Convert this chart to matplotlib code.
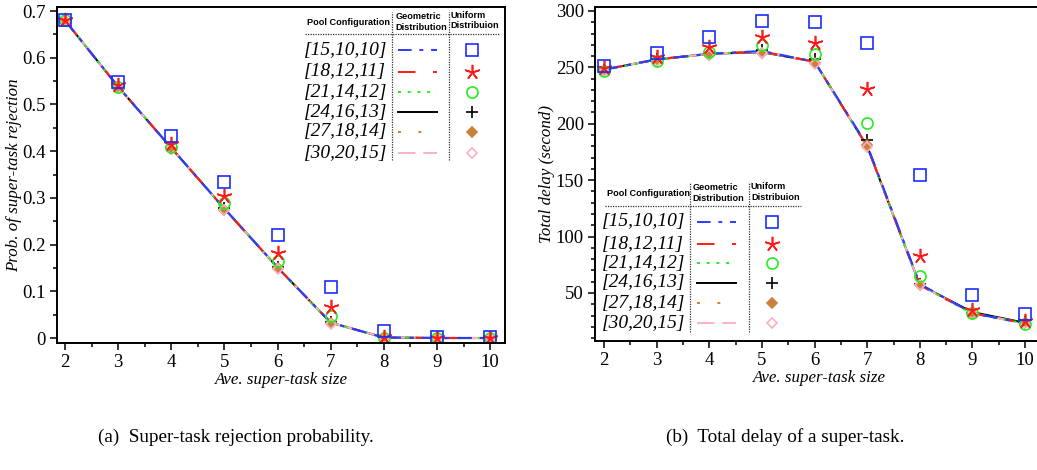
"""Two-panel comparison: super-task rejection probability and total delay."""

import matplotlib.pyplot as plt
from matplotlib.ticker import MultipleLocator

plt.rcParams["font.family"] = ["Liberation Serif", "DejaVu Serif"]
plt.rcParams["axes.linewidth"] = 1.4

# ---- data -----------------------------------------------------------------
task_size = [2, 3, 4, 5, 6, 7, 8, 9, 10]
pool_configs = ["[15,10,10]", "[18,12,11]", "[21,14,12]",
                "[24,16,13]", "[27,18,14]", "[30,20,15]"]

# rejection probability, geometric distribution (lines)
rej_geo = [
    [0.680, 0.538, 0.407, 0.277, 0.151, 0.033, 0.001, 0.000, 0.000],
    [0.680, 0.538, 0.407, 0.277, 0.151, 0.033, 0.001, 0.000, 0.000],
    [0.680, 0.538, 0.407, 0.277, 0.151, 0.033, 0.001, 0.000, 0.000],
    [0.680, 0.538, 0.407, 0.277, 0.151, 0.033, 0.001, 0.000, 0.000],
    [0.680, 0.538, 0.407, 0.277, 0.151, 0.033, 0.001, 0.000, 0.000],
    [0.680, 0.538, 0.407, 0.277, 0.151, 0.033, 0.001, 0.000, 0.000],
]
# rejection probability, uniform distribution (markers)
rej_uni = [
    [0.680, 0.548, 0.433, 0.334, 0.221, 0.110, 0.016, 0.002, 0.002],
    [0.680, 0.542, 0.415, 0.304, 0.183, 0.066, 0.003, 0.001, 0.001],
    [0.680, 0.538, 0.408, 0.288, 0.165, 0.047, 0.001, 0.000, 0.000],
    [0.680, 0.537, 0.406, 0.278, 0.153, 0.035, 0.000, 0.000, 0.000],
    [0.679, 0.535, 0.405, 0.275, 0.149, 0.032, 0.000, 0.000, 0.000],
    [0.679, 0.535, 0.405, 0.274, 0.148, 0.031, 0.000, 0.000, 0.000],
]

# total delay (s), geometric distribution (lines)
delay_geo = [
    [248, 257, 262, 264.5, 255, 181, 58, 32, 23],
    [248, 257, 262, 264, 255, 180, 57, 32, 23],
    [247.5, 256.5, 262, 264, 255, 180, 57, 31.5, 23],
    [248, 257, 262, 263.5, 255, 180, 57, 33, 23.5],
    [248, 257, 262, 264, 255, 180, 57, 32, 23],
    [248, 257, 262, 264, 255, 180, 57, 32, 23],
]
# total delay (s), uniform distribution (markers)
delay_uni = [
    [251, 263, 277, 291, 290, 272, 155, 48, 31],
    [249, 259, 268, 277, 272, 231, 83, 35, 25],
    [247, 256, 264, 270, 262, 201, 65, 32, 22.5],
    [248, 257, 263, 265, 257, 186, 58, 32, 24],
    [247, 256, 261, 263, 254, 181, 57, 31, 23],
    [247, 256, 261, 263, 253, 179, 57, 31, 23],
]

# ---- styles ---------------------------------------------------------------
line_colors = ["#2a3cff", "#ff1a1a", "#22ee22", "black", "#e07a20", "#ffb0c0"]
line_styles = [(0, (7, 4, 2, 4)), (0, (9, 9, 4, 9)), (0, (1.5, 3.5)),
               "-", (0, (1.5, 9)), (0, (9, 4))]
markers = ["s", (5, 2, 0), "o", "+", "D", "D"]
marker_face = ["none", "none", "none", "black", "#c8803a", "none"]
marker_edge = ["#1a2cff", "#ff1a1a", "#22ee22", "black", "#c8803a", "#ffb0c0"]
marker_size = [8, 11, 8, 9, 5.5, 5.5]
draw_order = [3, 4, 5, 2, 1, 0]


def draw_table(ax, x_text, x_line0, x_line1, x_mark, x_sep1, x_sep2,
               x_hdr2, x_hdr3, x_left, x_right, y_hdr, y_div, y_top, y_bot, rows_y):
    tr = ax.transAxes
    hdr = dict(family=["Liberation Sans", "DejaVu Sans"], fontweight="bold",
               fontsize=6.6, transform=tr)
    ax.text(x_left + 0.004, y_hdr, "Pool Configuration", va="center", **hdr)
    ax.text(x_hdr2, y_hdr, "Geometric\nDistribution", va="center",
            ha="left", linespacing=1.25, **hdr)
    ax.text(x_hdr3, y_hdr + 0.005, "Uniform\nDistribuion", va="center",
            ha="left", linespacing=1.25, **hdr)
    ax.plot([x_left, x_right], [y_div, y_div], color="#333333", lw=0.9,
            ls=(0, (1, 1)), transform=tr, clip_on=False)
    for xs in (x_sep1, x_sep2):
        ax.plot([xs, xs], [y_bot, y_top], color="#333333", lw=0.9,
                ls=(0, (1, 1)), transform=tr, clip_on=False)
    for i, yy in enumerate(rows_y):
        ax.text(x_text, yy, pool_configs[i], fontsize=14, style="italic",
                va="center", ha="left", transform=tr)
        ax.plot([x_line0, x_line1], [yy, yy], color=line_colors[i],
                ls=line_styles[i], lw=1.4, transform=tr)
        ax.plot([x_mark], [yy], marker=markers[i], ls="none",
                mfc=marker_face[i], mec=marker_edge[i], ms=marker_size[i],
                mew=1.2, transform=tr)


def style_axes(ax):
    ax.tick_params(which="both", direction="out", labelsize=13.5, width=1.1)
    ax.tick_params(which="major", length=5, pad=3)
    ax.tick_params(which="minor", length=3)
    ax.xaxis.set_major_locator(MultipleLocator(1))
    ax.xaxis.set_minor_locator(MultipleLocator(0.5))
    ax.set_xlabel("Ave. super-task size", fontsize=12.2, style="italic", labelpad=1)


def plot_series(ax, geo, uni):
    for i in draw_order:
        ax.plot(task_size, geo[i], color=line_colors[i], ls=line_styles[i], lw=1.5)
    for i in draw_order:
        ax.plot(task_size, uni[i], marker=markers[i], ls="none",
                mfc=marker_face[i], mec=marker_edge[i], ms=marker_size[i], mew=1.2)


fig = plt.figure(figsize=(10.37, 4.70), dpi=100)
ax1 = fig.add_axes([57 / 1037, 127 / 470, 448 / 1037, 336 / 470])
ax2 = fig.add_axes([595 / 1037, 129 / 470, 448 / 1037, 334 / 470])

# panel (a)
plot_series(ax1, rej_geo, rej_uni)
style_axes(ax1)
ax1.set_xlim(1.85, 10.28)
ax1.set_ylim(-0.0107, 0.7086)
ax1.yaxis.set_major_locator(MultipleLocator(0.1))
ax1.yaxis.set_minor_locator(MultipleLocator(0.05))
ax1.set_yticklabels([f"{v:g}" if v > 1e-9 else "0" for v in ax1.get_yticks()])
ax1.set_ylabel("Prob. of super-task rejection", fontsize=12.2, style="italic")
ax1.yaxis.set_label_coords(-0.078, 0.5)
draw_table(ax1, x_text=0.552, x_line0=0.761, x_line1=0.848, x_mark=0.926,
           x_sep1=0.748, x_sep2=0.875, x_hdr2=0.756, x_hdr3=0.879,
           x_left=0.554, x_right=0.989, y_hdr=0.955, y_div=0.92,
           y_top=0.985, y_bot=0.545,
           rows_y=[0.872, 0.807, 0.747, 0.6875, 0.628, 0.565])

# panel (b)
plot_series(ax2, delay_geo, delay_uni)
style_axes(ax2)
ax2.set_xlim(1.829, 10.34)
ax2.set_ylim(7.4, 303.5)
ax2.yaxis.set_major_locator(MultipleLocator(50))
ax2.yaxis.set_minor_locator(MultipleLocator(10))
ax2.set_ylabel("Total delay (second)", fontsize=12.2, style="italic")
ax2.yaxis.set_label_coords(-0.089, 0.5)
draw_table(ax2, x_text=0.016, x_line0=0.228, x_line1=0.315, x_mark=0.396,
           x_sep1=0.213, x_sep2=0.343, x_hdr2=0.218, x_hdr3=0.348,
           x_left=0.023, x_right=0.459, y_hdr=0.442, y_div=0.405,
           y_top=0.476, y_bot=0.027,
           rows_y=[0.357, 0.289, 0.233, 0.175, 0.113, 0.053])

fig.text(236 / 1037, 1 - 437 / 470, "(a)  Super-task rejection probability.",
         ha="center", va="center", fontsize=13.8)
fig.text(785 / 1037, 1 - 437 / 470, "(b)  Total delay of a super-task.",
         ha="center", va="center", fontsize=13.8)

fig.savefig("out.png", dpi=100)
